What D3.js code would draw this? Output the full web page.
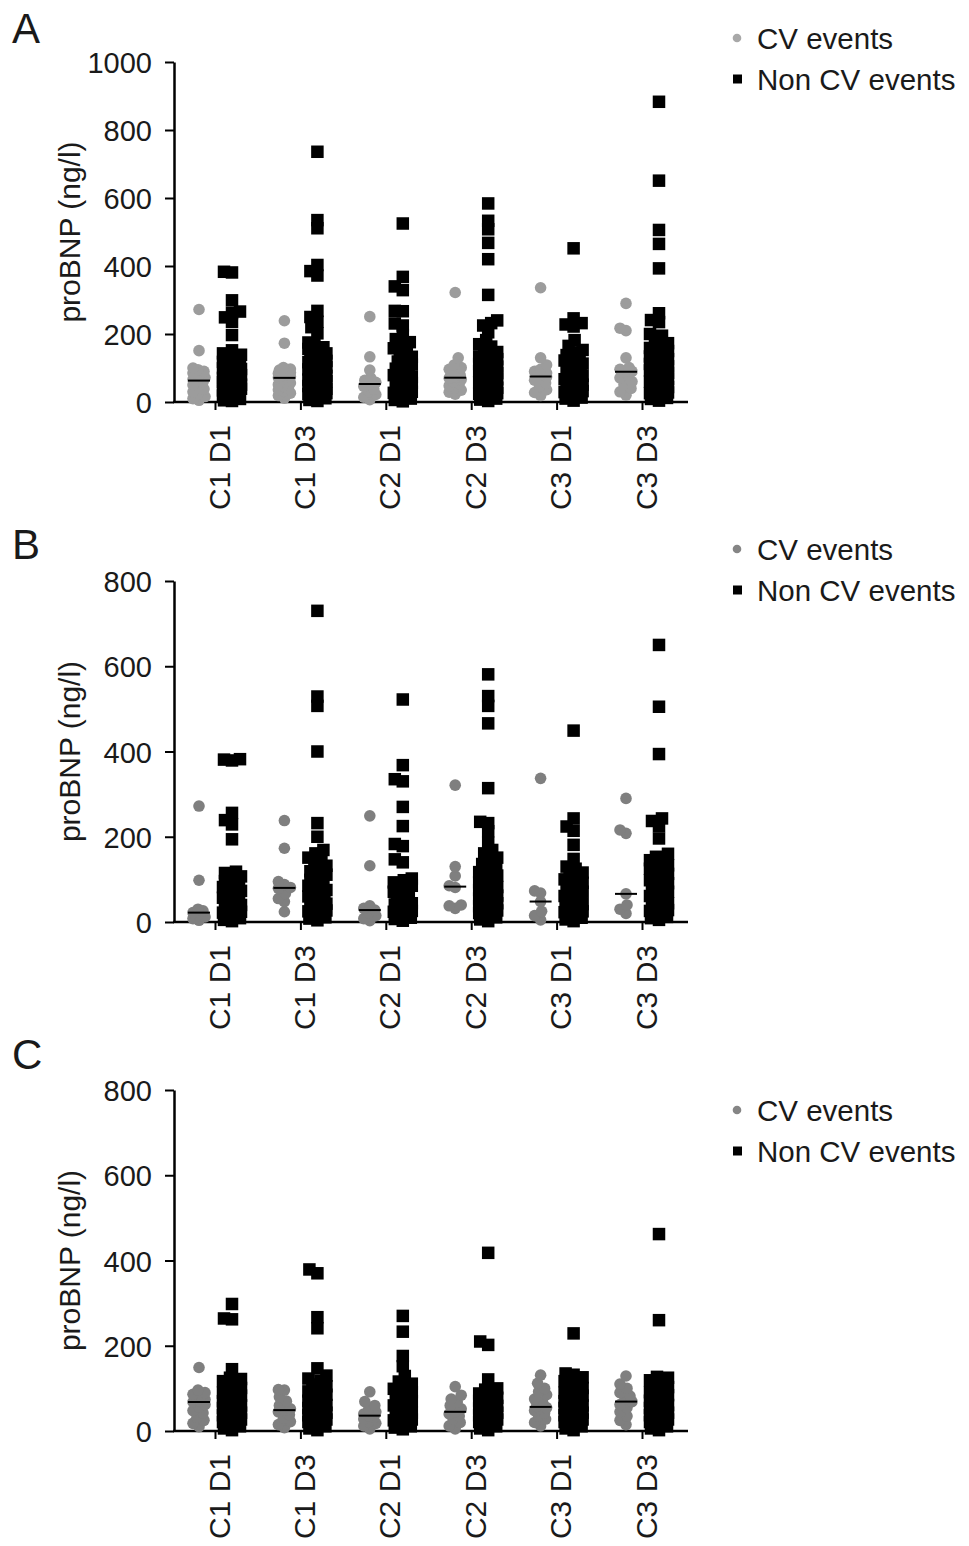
<!DOCTYPE html>
<html>
<head>
<script src="https://d3js.org/d3.v7.min.js"></script>
<style>
  body { margin: 0; background: #fff; }
  svg text { font-family: "Liberation Sans", Arial, Helvetica, sans-serif; fill: #1a1a1a; }
</style>
</head>
<body>
<script>
// groups on the x axis
var groups = ["C1 D1", "C1 D3", "C2 D1", "C2 D3", "C3 D1", "C3 D3"];
var panelNames = ["A", "B", "C"];
var legendLabels = ["CV events", "Non CV events"];
var yTicksA = [0, 200, 400, 600, 800, 1000];
var yTicksBC = [0, 200, 400, 600, 800];
var yTitle = "proBNP (ng/l)";

// panel A, proBNP (ng/l) per patient
var cvA = [
  [272, 151, 100, 95, 90, 85, 78, 72, 66, 63, 58, 50, 44, 38, 30, 24, 16, 10, 5],
  [239, 173, 101, 97, 94, 92, 89, 86, 84, 81, 77, 74, 72, 70, 67, 63, 59, 56, 51, 46, 41, 36, 31, 26, 19, 11],
  [251, 133, 94, 70, 64, 58, 53, 46, 38, 31, 22, 14, 7],
  [322, 130, 109, 101, 96, 90, 84, 79, 73, 70, 66, 60, 54, 48, 41, 35, 29, 23],
  [336, 130, 109, 96, 90, 85, 81, 76, 74, 70, 64, 56, 46, 36, 28, 19],
  [290, 217, 210, 130, 101, 96, 92, 90, 88, 80, 71, 60, 51, 40, 30, 20]
];
var nonCvA = [
  [383, 381, 299, 266, 262, 249, 236, 197, 152, 143, 139, 128, 126, 118, 113, 109, 104, 99, 97, 91, 87, 85, 79, 77, 71, 69, 64, 61, 59, 54, 51, 49, 44, 41, 39, 34, 31, 29, 24, 21, 19, 14, 11, 9, 5, 3],
  [736, 535, 511, 403, 385, 372, 268, 250, 236, 220, 202, 175, 168, 161, 156, 148, 143, 137, 130, 127, 121, 117, 113, 108, 102, 99, 96, 90, 88, 83, 80, 77, 72, 69, 66, 61, 58, 56, 50, 47, 45, 39, 37, 34, 28, 26, 23, 17, 14, 11, 6, 3],
  [525, 368, 340, 329, 268, 267, 231, 225, 197, 185, 176, 167, 158, 148, 142, 133, 125, 119, 110, 104, 98, 91, 87, 79, 74, 67, 63, 56, 52, 45, 41, 37, 30, 27, 20, 17, 10, 6, 2],
  [584, 533, 508, 468, 420, 315, 240, 232, 225, 205, 182, 170, 163, 152, 147, 138, 134, 126, 122, 115, 112, 104, 101, 94, 91, 85, 82, 76, 73, 67, 65, 58, 56, 50, 48, 42, 40, 34, 32, 26, 24, 18, 16, 10, 7, 3],
  [452, 246, 232, 228, 222, 182, 165, 153, 146, 138, 134, 126, 122, 113, 109, 102, 98, 91, 88, 80, 77, 70, 67, 60, 57, 51, 48, 41, 38, 32, 29, 22, 19, 13, 10, 4],
  [883, 651, 506, 465, 393, 261, 241, 235, 200, 195, 180, 173, 164, 159, 150, 146, 138, 134, 126, 123, 115, 112, 105, 102, 95, 93, 86, 84, 77, 75, 68, 66, 60, 58, 52, 50, 44, 42, 36, 34, 28, 26, 20, 17, 12, 9, 4]
];

// panel B
var cvB = [
  [272, 98, 30, 26, 22, 17, 12, 8, 4],
  [238, 173, 95, 88, 81, 79, 67, 55, 48, 24],
  [249, 132, 38, 32, 28, 22, 15, 8, 3],
  [321, 130, 108, 85, 81, 40, 38, 32],
  [337, 73, 68, 48, 25, 15, 5],
  [290, 216, 208, 66, 40, 30, 20]
];
var nonCvB = [
  [382, 381, 379, 256, 239, 229, 194, 118, 115, 107, 104, 96, 93, 85, 82, 76, 73, 66, 63, 57, 55, 48, 46, 40, 38, 32, 30, 24, 22, 16, 14, 9, 5, 2],
  [730, 529, 507, 400, 232, 200, 169, 161, 151, 147, 138, 132, 124, 119, 111, 107, 99, 96, 88, 85, 78, 75, 68, 66, 60, 58, 51, 49, 43, 41, 35, 33, 27, 25, 19, 17, 11, 8, 4],
  [522, 368, 335, 330, 270, 225, 183, 178, 147, 140, 102, 98, 93, 85, 81, 74, 71, 63, 60, 53, 50, 44, 41, 35, 32, 26, 24, 18, 16, 10, 7, 3],
  [581, 530, 507, 466, 314, 235, 232, 213, 186, 169, 161, 151, 146, 136, 131, 122, 117, 109, 104, 96, 93, 85, 82, 75, 72, 65, 62, 55, 53, 46, 44, 37, 35, 29, 27, 21, 19, 13, 11, 6, 2],
  [449, 243, 224, 214, 181, 148, 130, 125, 116, 112, 104, 100, 92, 89, 81, 78, 71, 68, 61, 58, 51, 49, 42, 40, 33, 31, 25, 23, 17, 15, 10, 6, 2],
  [650, 505, 394, 243, 237, 225, 196, 160, 153, 150, 145, 137, 133, 125, 121, 113, 109, 102, 98, 91, 88, 81, 78, 71, 68, 61, 59, 52, 50, 44, 42, 36, 34, 28, 26, 20, 18, 12, 9, 5]
];

// panel C
var cvC = [
  [149, 96, 90, 86, 82, 78, 74, 70, 68, 62, 56, 48, 42, 32, 25, 18, 10],
  [97, 96, 80, 70, 60, 52, 49, 45, 38, 30, 22, 15, 8],
  [92, 69, 60, 52, 45, 40, 36, 32, 28, 22, 18, 12, 5],
  [104, 84, 75, 68, 60, 52, 45, 40, 35, 28, 20, 12, 5],
  [131, 112, 100, 92, 85, 75, 68, 58, 55, 52, 48, 42, 35, 28, 20, 12],
  [129, 110, 100, 90, 82, 75, 69, 62, 55, 45, 35, 25, 15]
];
var nonCvC = [
  [298, 264, 262, 145, 125, 122, 117, 113, 105, 101, 94, 90, 83, 80, 73, 70, 63, 60, 54, 51, 45, 43, 37, 35, 29, 27, 21, 19, 13, 11, 6, 2],
  [379, 370, 267, 241, 147, 130, 123, 118, 109, 105, 97, 93, 85, 81, 74, 71, 64, 61, 54, 51, 45, 43, 37, 35, 29, 27, 21, 19, 13, 11, 6, 2],
  [270, 233, 176, 152, 129, 116, 111, 103, 99, 91, 87, 80, 77, 70, 67, 60, 57, 51, 49, 43, 41, 35, 33, 27, 25, 19, 17, 11, 8, 4],
  [418, 210, 202, 121, 100, 97, 91, 88, 81, 78, 71, 68, 61, 59, 53, 51, 45, 43, 37, 35, 29, 27, 21, 19, 13, 11, 6, 2],
  [229, 135, 132, 126, 117, 113, 105, 101, 94, 90, 83, 80, 73, 70, 63, 60, 54, 51, 45, 43, 37, 35, 29, 27, 21, 19, 13, 11, 6, 2],
  [462, 260, 127, 125, 119, 115, 107, 103, 95, 91, 84, 81, 74, 71, 64, 61, 54, 51, 45, 43, 37, 35, 29, 27, 21, 19, 13, 11, 6, 2]
];

var W = 969, H = 1546;
var axisX = 174, axisRight = 688;

var panels = [
  {name: panelNames[0], cv: cvA, non: nonCvA, ticks: yTicksA, max: 1000, top: 62, bottom: 402, letterY: 43, legY: 38, grey: "#9c9c9c", legGrey: "#a8a8a8"},
  {name: panelNames[1], cv: cvB, non: nonCvB, ticks: yTicksBC, max: 800, top: 581, bottom: 922, letterY: 559, legY: 549, grey: "#7f7f7f", legGrey: "#858585"},
  {name: panelNames[2], cv: cvC, non: nonCvC, ticks: yTicksBC, max: 800, top: 1090, bottom: 1431, letterY: 1069, legY: 1110, grey: "#7f7f7f", legGrey: "#858585"}
];

var svg = d3.select("body").append("svg").attr("width", W).attr("height", H);

var x = d3.scalePoint().domain(groups).range([215, 642]);

// simple swarm: spread points sideways so they don't sit on top of each other
function swarm(vals, y, maxOff, minD) {
  var pts = vals.map(function(v) { return {v: v, y: y(v)}; })
    .sort(function(a, b) { return b.y - a.y; });
  var placed = [];
  pts.forEach(function(p) {
    var best = 0, bestScore = -1;
    outer:
    for (var k = 0; k <= maxOff; k++) {
      var sides = k ? [-1, 1] : [1];
      for (var s = 0; s < sides.length; s++) {
        var o = sides[s] * k, md = Infinity;
        placed.forEach(function(q) {
          var d = Math.hypot(q.o - o, q.y - p.y);
          if (d < md) md = d;
        });
        if (md >= minD) { best = o; break outer; }
        if (md > bestScore) { bestScore = md; best = o; }
      }
    }
    p.o = best;
    placed.push(p);
  });
  return pts;
}

panels.forEach(function(P) {
  var y = d3.scaleLinear().domain([0, P.max]).range([P.bottom, P.top]);
  var g = svg.append("g");

  // panel letter
  g.append("text")
    .attr("x", 12).attr("y", P.letterY)
    .style("font-size", "42px")
    .text(P.name);

  // y axis
  var ya = g.append("g")
    .attr("transform", "translate(" + axisX + ",0)")
    .call(d3.axisLeft(y).tickValues(P.ticks).tickFormat(d3.format("d")).tickSize(9).tickSizeOuter(0));
  ya.select(".domain").attr("stroke-width", 2.5);
  ya.selectAll(".tick line").attr("stroke-width", 2);
  ya.selectAll(".tick text")
    .attr("x", -22).attr("dy", null).attr("y", 10.5)
    .style("font-size", "29px").attr("fill", "#1a1a1a");

  // y title
  g.append("text")
    .attr("transform", "translate(80," + (P.top + P.bottom) / 2 + ") rotate(-90)")
    .attr("text-anchor", "middle")
    .style("font-size", "30px")
    .text(yTitle);

  // x axis
  g.append("line")
    .attr("x1", axisX - 1).attr("x2", axisRight)
    .attr("y1", P.bottom).attr("y2", P.bottom)
    .attr("stroke", "#000").attr("stroke-width", 2.5);
  var xa = g.append("g")
    .attr("transform", "translate(0," + P.bottom + ")")
    .call(d3.axisBottom(x).tickSize(8).tickSizeOuter(0));
  xa.select(".domain").remove();
  xa.selectAll(".tick line").attr("stroke-width", 2);
  xa.selectAll(".tick text")
    .attr("x", null).attr("y", null).attr("dy", null)
    .attr("text-anchor", "end")
    .attr("transform", "translate(14,23) rotate(-90)")
    .style("font-size", "30px").attr("fill", "#1a1a1a");

  // points
  groups.forEach(function(grp, i) {
    var cx = x(grp) - 16, bx = x(grp) + 17;

    var nonPts = swarm(P.non[i], y, 9, 8);
    g.append("g").selectAll("rect").data(nonPts).join("rect")
      .attr("x", function(d) { return bx + d.o - 6.25; })
      .attr("y", function(d) { return d.y - 6.25; })
      .attr("width", 12.5).attr("height", 12.5)
      .attr("fill", "#000");

    var cvPts = swarm(P.cv[i], y, 6, 8);
    g.append("g").selectAll("circle").data(cvPts).join("circle")
      .attr("cx", function(d) { return cx + d.o; })
      .attr("cy", function(d) { return d.y; })
      .attr("r", 5.8)
      .attr("fill", P.grey);

    // median of CV events
    var med = d3.median(P.cv[i]);
    g.append("line")
      .attr("x1", cx - 11).attr("x2", cx + 11)
      .attr("y1", y(med)).attr("y2", y(med))
      .attr("stroke", "#000").attr("stroke-width", 2);
  });

  // legend
  var leg = g.append("g");
  leg.append("circle").attr("cx", 737).attr("cy", P.legY).attr("r", 4.3).attr("fill", P.legGrey);
  leg.append("rect").attr("x", 733).attr("y", P.legY + 41 - 4.5).attr("width", 9).attr("height", 9).attr("fill", "#000");
  legendLabels.forEach(function(t, k) {
    leg.append("text")
      .attr("x", 757).attr("y", P.legY + 10.5 + k * 41)
      .style("font-size", "29.5px")
      .text(t);
  });
});
</script>
</body>
</html>
